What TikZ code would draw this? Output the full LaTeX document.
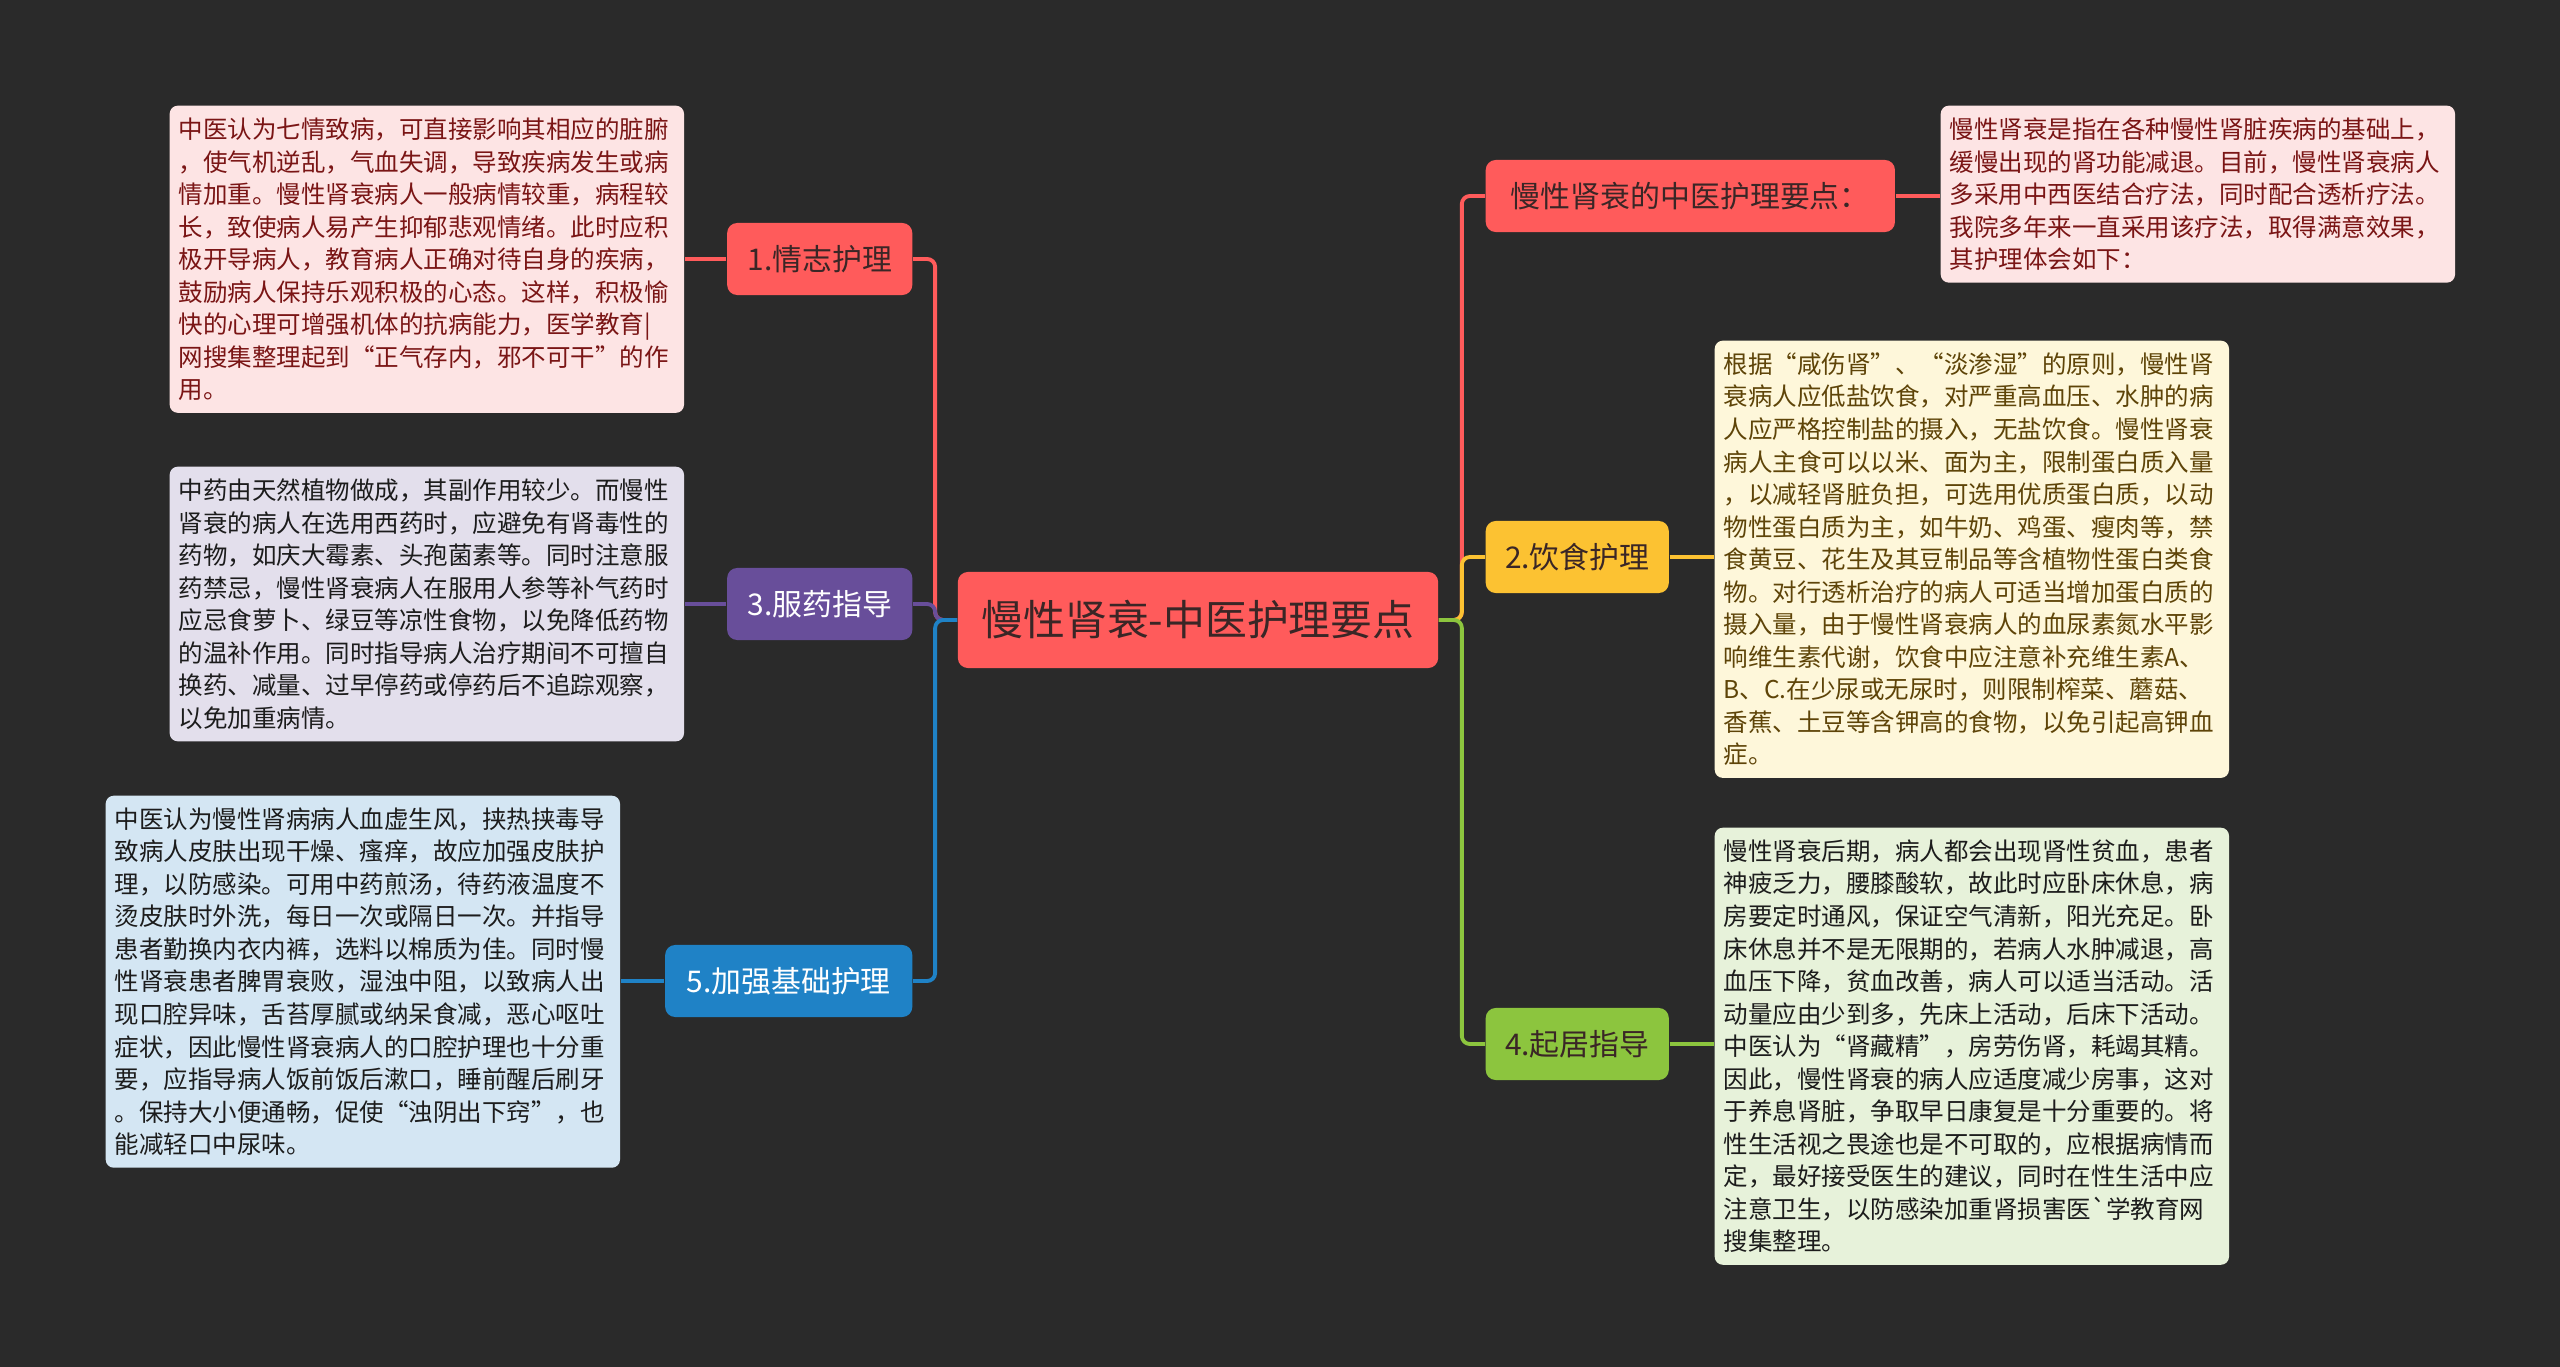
\documentclass[tikz,border=0pt]{standalone}
\usepackage{fontspec}
\setmainfont{Noto Sans CJK SC}
\newfontfamily\rawcjk[Ligatures=TeXOff]{Noto Sans CJK SC}
\usepackage{tikz}
\usetikzlibrary{positioning}
\definecolor{bgc}{HTML}{2A2A2A}
\definecolor{redc}{HTML}{FF5B5B}
\definecolor{purc}{HTML}{684E9A}
\definecolor{bluc}{HTML}{1F82C6}
\definecolor{yelc}{HTML}{FCC232}
\definecolor{grnc}{HTML}{8CC53E}
\definecolor{pinkbg}{HTML}{FDE4E4}
\definecolor{lavbg}{HTML}{E3DFEC}
\definecolor{blubg}{HTML}{D4E6F3}
\definecolor{yelbg}{HTML}{FEF7DA}
\definecolor{grnbg}{HTML}{E7F2DA}
\definecolor{darkred}{HTML}{7A1515}
\definecolor{brown}{HTML}{5E4408}
\definecolor{inkc}{HTML}{1C1C1C}
\definecolor{rootink}{HTML}{3A2626}
\tikzset{
  br/.style={rounded corners=0.1cm,minimum height=0.72cm,inner sep=0pt,font=\fontsize{8.5pt}{10pt}\selectfont},
  tx/.style={rounded corners=0.08cm,anchor=north west,text width=4.96cm,inner xsep=0.09cm,inner ysep=0.12cm,align=left,font=\fontsize{6.97pt}{9.25pt}\selectfont},
  ln/.style={line width=1.1pt,rounded corners=0.08cm}
}
\begin{document}
\begin{tikzpicture}[x=0.01cm,y=-0.01cm]
\fill[bgc] (0,0) rectangle (2560,1367);
\useasboundingbox (0,0) rectangle (2560,1367);
\node[fill=redc,rounded corners=0.1cm,minimum width=4.8cm,minimum height=0.96cm,inner sep=0pt,text=rootink,font=\fontsize{11.9pt}{14pt}\selectfont] (root) at (1198,620) {慢性肾衰-中医护理要点};
\node[br,fill=redc,text=rootink,minimum width=1.85cm,anchor=east] (qz) at (913,259) {1.情志护理};
\node[br,fill=purc,text=white,minimum width=1.85cm,anchor=east] (fy) at (913,604) {3.服药指导};
\node[br,fill=bluc,text=white,minimum width=2.47cm,anchor=east] (jc) at (913,981) {5.加强基础护理};
\node[br,fill=redc,text=rootink,minimum width=4.09cm,anchor=west] (yd) at (1485,196) {慢性肾衰的中医护理要点：};
\node[br,fill=yelc,text=rootink,minimum width=1.83cm,anchor=west] (ys) at (1485,557) {2.饮食护理};
\node[br,fill=grnc,text=rootink,minimum width=1.83cm,anchor=west] (qj) at (1485,1044) {4.起居指导};
\node[tx,fill=pinkbg,text=darkred] (t1) at (169,105) {中医认为七情致病，可直接影响其相应的脏腑\\，使气机逆乱，气血失调，导致疾病发生或病\\情加重。慢性肾衰病人一般病情较重，病程较\\长，致使病人易产生抑郁悲观情绪。此时应积\\极开导病人，教育病人正确对待自身的疾病，\\鼓励病人保持乐观积极的心态。这样，积极愉\\快的心理可增强机体的抗病能力，医学教育|\\网搜集整理起到“正气存内，邪不可干”的作\\用。};
\node[tx,fill=lavbg,text=inkc] (t3) at (169,466) {中药由天然植物做成，其副作用较少。而慢性\\肾衰的病人在选用西药时，应避免有肾毒性的\\药物，如庆大霉素、头孢菌素等。同时注意服\\药禁忌，慢性肾衰病人在服用人参等补气药时\\应忌食萝卜、绿豆等凉性食物，以免降低药物\\的温补作用。同时指导病人治疗期间不可擅自\\换药、减量、过早停药或停药后不追踪观察，\\以免加重病情。};
\node[tx,fill=blubg,text=inkc] (t5) at (105,795) {中医认为慢性肾病病人血虚生风，挟热挟毒导\\致病人皮肤出现干燥、瘙痒，故应加强皮肤护\\理，以防感染。可用中药煎汤，待药液温度不\\烫皮肤时外洗，每日一次或隔日一次。并指导\\患者勤换内衣内裤，选料以棉质为佳。同时慢\\性肾衰患者脾胃衰败，湿浊中阻，以致病人出\\现口腔异味，舌苔厚腻或纳呆食减，恶心呕吐\\症状，因此慢性肾衰病人的口腔护理也十分重\\要，应指导病人饭前饭后漱口，睡前醒后刷牙\\。保持大小便通畅，促使“浊阴出下窍”，也\\能减轻口中尿味。};
\node[tx,fill=pinkbg,text=darkred] (td) at (1940,105) {慢性肾衰是指在各种慢性肾脏疾病的基础上，\\缓慢出现的肾功能减退。目前，慢性肾衰病人\\多采用中西医结合疗法，同时配合透析疗法。\\我院多年来一直采用该疗法，取得满意效果，\\其护理体会如下：};
\node[tx,fill=yelbg,text=brown] (t2) at (1714,340) {根据“咸伤肾”、“淡渗湿”的原则，慢性肾\\衰病人应低盐饮食，对严重高血压、水肿的病\\人应严格控制盐的摄入，无盐饮食。慢性肾衰\\病人主食可以以米、面为主，限制蛋白质入量\\，以减轻肾脏负担，可选用优质蛋白质，以动\\物性蛋白质为主，如牛奶、鸡蛋、瘦肉等，禁\\食黄豆、花生及其豆制品等含植物性蛋白类食\\物。对行透析治疗的病人可适当增加蛋白质的\\摄入量，由于慢性肾衰病人的血尿素氮水平影\\响维生素代谢，饮食中应注意补充维生素A、\\B、C.在少尿或无尿时，则限制榨菜、蘑菇、\\香蕉、土豆等含钾高的食物，以免引起高钾血\\症。};
\node[tx,fill=grnbg,text=inkc] (t4) at (1714,827) {慢性肾衰后期，病人都会出现肾性贫血，患者\\神疲乏力，腰膝酸软，故此时应卧床休息，病\\房要定时通风，保证空气清新，阳光充足。卧\\床休息并不是无限期的，若病人水肿减退，高\\血压下降，贫血改善，病人可以适当活动。活\\动量应由少到多，先床上活动，后床下活动。\\中医认为“肾藏精”，房劳伤肾，耗竭其精。\\因此，慢性肾衰的病人应适度减少房事，这对\\于养息肾脏，争取早日康复是十分重要的。将\\性生活视之畏途也是不可取的，应根据病情而\\定，最好接受医生的建议，同时在性生活中应\\注意卫生，以防感染加重肾损害医{\rawcjk\symbol{96}}学教育网\\搜集整理。};
\draw[ln,redc] (root.west) -- ++(-22,0) |- (qz.east);
\draw[ln,purc] (root.west) -- ++(-22,0) |- (fy.east);
\draw[ln,bluc] (root.west) -- ++(-22,0) |- (jc.east);
\draw[ln,redc] (root.east) -- ++(23,0) |- (yd.west);
\draw[ln,yelc] (root.east) -- ++(23,0) |- (ys.west);
\draw[ln,grnc] (root.east) -- ++(23,0) |- (qj.west);
\draw[ln,redc] (qz.west) -- (qz.west -| t1.east);
\draw[ln,purc] (fy.west) -- (fy.west -| t3.east);
\draw[ln,bluc] (jc.west) -- (jc.west -| t5.east);
\draw[ln,redc] (yd.east) -- (yd.east -| td.west);
\draw[ln,yelc] (ys.east) -- (ys.east -| t2.west);
\draw[ln,grnc] (qj.east) -- (qj.east -| t4.west);
\end{tikzpicture}
\end{document}
